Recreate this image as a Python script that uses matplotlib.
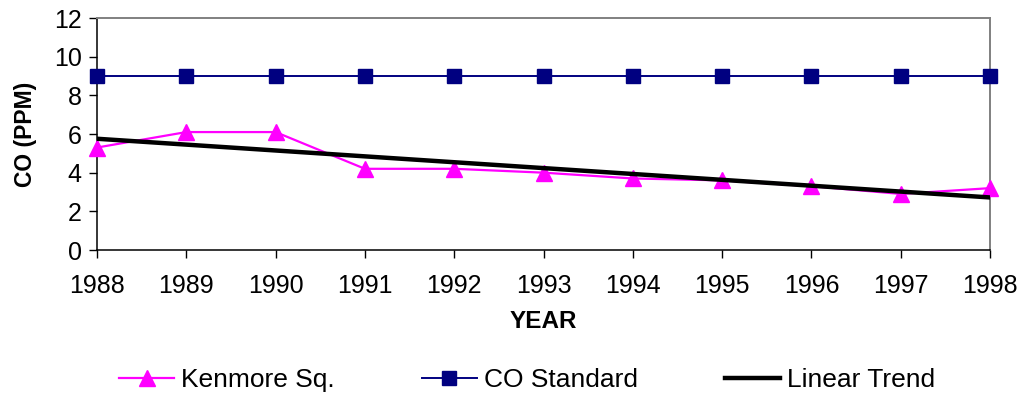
import numpy as np
import matplotlib
matplotlib.use("Agg")
import matplotlib.pyplot as plt

plt.rcParams['font.family'] = ['Liberation Sans', 'DejaVu Sans']

# data
years = [1988, 1989, 1990, 1991, 1992, 1993, 1994, 1995, 1996, 1997, 1998]
kenmore = [5.3, 6.1, 6.1, 4.2, 4.2, 4.0, 3.7, 3.6, 3.3, 2.9, 3.2]
co_standard = [9, 9, 9, 9, 9, 9, 9, 9, 9, 9, 9]
y_ticks = [0, 2, 4, 6, 8, 10, 12]

# least squares trend through the Kenmore values
coef = np.polyfit(years, kenmore, 1)
trend = np.polyval(coef, years)

fig = plt.figure(figsize=(10.21, 3.98), dpi=100)
ax = fig.add_axes([97/1021, 1 - 250/398, 893/1021, 232/398])

ax.plot(years, kenmore, color='#FF00FF', lw=1.6, marker='^', ms=11,
        label='Kenmore Sq.', clip_on=False, zorder=4)
ax.plot(years, co_standard, color='#000080', lw=1.4, marker='s', ms=10,
        label='CO Standard', clip_on=False, zorder=4)
ax.plot(years, trend, color='black', lw=3.2, label='Linear Trend', zorder=5)

ax.set_xlim(1988, 1998)
ax.set_ylim(0, 12)
ax.set_xticks(years)
ax.set_yticks(y_ticks)
ax.tick_params(direction='out', length=6, width=1, labelsize=18)
ax.tick_params(axis='x', pad=11)
ax.tick_params(axis='y', pad=5)

for s in ['left', 'bottom']:
    ax.spines[s].set_color('black')
    ax.spines[s].set_linewidth(1.1)
for s in ['top', 'right']:
    ax.spines[s].set_color('#808080')
    ax.spines[s].set_linewidth(1.4)

ax.set_xlabel('YEAR', fontsize=17.5, fontweight='bold', va='center')
ax.xaxis.set_label_coords(0.5, -0.31)
ax.set_ylabel('CO (PPM)', fontsize=16.5, fontweight='bold', va='center')
ax.yaxis.set_label_coords(-0.08, 0.5)

fig.legend(loc='center', bbox_to_anchor=(527/1021, 18/398), ncol=3,
           frameon=False, fontsize=19, handlelength=2.1, handletextpad=0.25,
           columnspacing=3.3, numpoints=1)

fig.savefig('out.png', dpi=100)
